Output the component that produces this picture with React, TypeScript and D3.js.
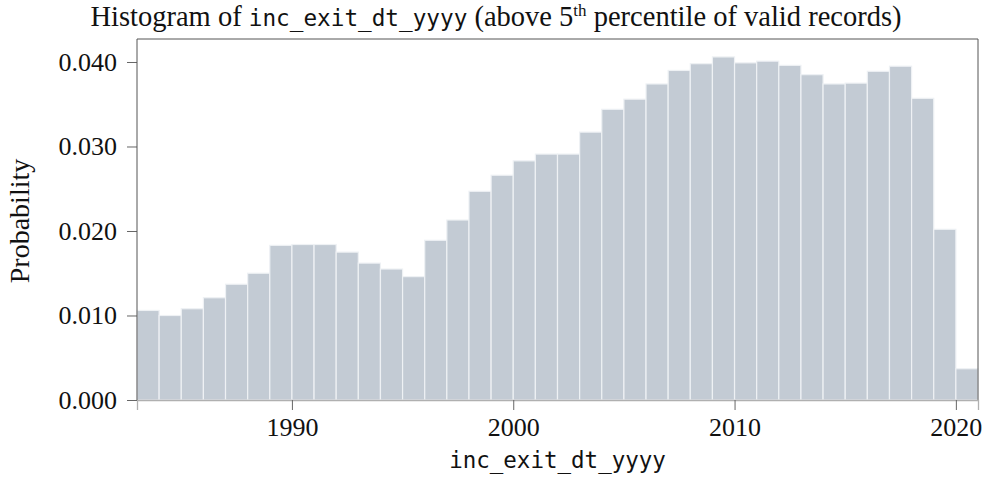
import React, { useRef, useEffect } from "react";
import { select, scaleLinear, axisBottom, axisLeft, format } from "d3";

// bin start years (each bin is one year wide)
const binStarts = [
  1983, 1984, 1985, 1986, 1987, 1988, 1989, 1990, 1991, 1992, 1993, 1994,
  1995, 1996, 1997, 1998, 1999, 2000, 2001, 2002, 2003, 2004, 2005, 2006,
  2007, 2008, 2009, 2010, 2011, 2012, 2013, 2014, 2015, 2016, 2017, 2018,
  2019, 2020,
];
const probabilities = [
  0.0106, 0.01, 0.0108, 0.0121, 0.0137, 0.015, 0.0183, 0.0184, 0.0184,
  0.0175, 0.0162, 0.0155, 0.0146, 0.0189, 0.0213, 0.0247, 0.0266, 0.0283,
  0.0291, 0.0291, 0.0317, 0.0344, 0.0356, 0.0374, 0.039, 0.0398, 0.0406,
  0.0399, 0.0401, 0.0396, 0.0385, 0.0374, 0.0375, 0.0389, 0.0395, 0.0357,
  0.0202, 0.0037,
];
const xTicks = [1990, 2000, 2010, 2020];
const yTicks = [0, 0.01, 0.02, 0.03, 0.04];
const xLabel = "inc_exit_dt_yyyy";
const yLabel = "Probability";

const width = 987;
const height = 481;
const margin = { top: 39, right: 9, bottom: 81, left: 137 };
const serif = "'Liberation Serif', 'DejaVu Serif', serif";
const mono = "'DejaVu Sans Mono', 'Liberation Mono', monospace";

const App: React.FC = () => {
  const svgRef = useRef<SVGSVGElement>(null);

  useEffect(() => {
    const svg = select(svgRef.current);
    svg.selectAll("*").remove();
    const plotW = width - margin.left - margin.right;
    const plotH = height - margin.top - margin.bottom;

    const x = scaleLinear()
      .domain([1983, 2021])
      .range([margin.left, margin.left + plotW]);
    const y = scaleLinear()
      .domain([0, 0.04272])
      .range([margin.top + plotH, margin.top]);

    // bars
    svg
      .append("g")
      .selectAll("rect")
      .data(binStarts.map((b, i) => [b, probabilities[i]] as [number, number]))
      .join("rect")
      .attr("x", (d) => x(d[0]))
      .attr("width", (d) => x(d[0] + 1) - x(d[0]))
      .attr("y", (d) => y(d[1]))
      .attr("height", (d) => y(0) - y(d[1]))
      .attr("fill", "#c3cbd4")
      .attr("stroke", "#eef1f4")
      .attr("stroke-width", 1.2);

    // frame: top, right
    svg
      .append("line")
      .attr("x1", margin.left)
      .attr("x2", margin.left + plotW)
      .attr("y1", margin.top)
      .attr("y2", margin.top)
      .attr("stroke", "#555");
    svg
      .append("line")
      .attr("x1", margin.left + plotW)
      .attr("x2", margin.left + plotW)
      .attr("y1", margin.top)
      .attr("y2", margin.top + plotH)
      .attr("stroke", "#555");

    const xAxis = axisBottom(x)
      .tickValues(xTicks)
      .tickFormat(format("d"))
      .tickSize(10)
      .tickPadding(8);
    const gx = svg
      .append("g")
      .attr("transform", `translate(0,${margin.top + plotH})`)
      .call(xAxis);
    gx.select(".domain").attr("stroke", "#b0b0b0").attr("stroke-width", 1.3);
    gx.selectAll(".tick line").attr("stroke", "#666");
    gx.selectAll(".tick text")
      .attr("font-family", serif)
      .attr("font-size", 26)
      .attr("fill", "#111");

    const yAxis = axisLeft(y)
      .tickValues(yTicks)
      .tickFormat(format(".3f"))
      .tickSize(10)
      .tickPadding(10);
    const gy = svg
      .append("g")
      .attr("transform", `translate(${margin.left},0)`)
      .call(yAxis);
    gy.select(".domain").remove();
    gy.append("line")
      .attr("y1", margin.top)
      .attr("y2", margin.top + plotH)
      .attr("stroke", "#555");
    gy.selectAll(".tick line").attr("stroke", "#666");
    gy.selectAll(".tick text")
      .attr("font-family", serif)
      .attr("font-size", 26)
      .attr("fill", "#111");

    // axis labels
    svg
      .append("text")
      .attr("x", margin.left + plotW / 2)
      .attr("y", 468)
      .attr("text-anchor", "middle")
      .attr("font-family", mono)
      .attr("font-size", 22.5)
      .attr("fill", "#111")
      .text(xLabel);
    svg
      .append("text")
      .attr("transform", `translate(29,221) rotate(-90)`)
      .attr("text-anchor", "middle")
      .attr("font-family", serif)
      .attr("font-size", 28)
      .attr("fill", "#111")
      .text(yLabel);

    // title with mono variable name and superscript
    const title = svg
      .append("text")
      .attr("x", 496)
      .attr("y", 26)
      .attr("text-anchor", "middle")
      .attr("font-family", serif)
      .attr("font-size", 28.5)
      .attr("fill", "#111");
    title.append("tspan").text("Histogram of ");
    title.append("tspan").attr("font-family", mono).attr("font-size", 22.7).text(xLabel);
    title.append("tspan").text(" (above 5");
    title.append("tspan").attr("dy", -10).attr("font-size", 17).text("th");
    title.append("tspan").attr("dy", 10).text(" percentile of valid records)");
  });

  return (
    <svg
      ref={svgRef}
      width={width}
      height={height}
      style={{ position: "absolute", left: 0, top: 0, background: "#fff" }}
    ></svg>
  );
};

export default App;
